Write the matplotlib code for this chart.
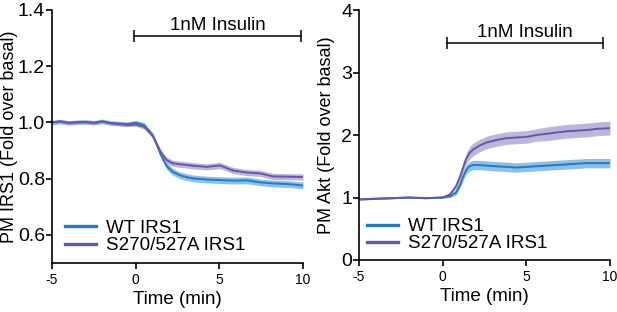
import matplotlib
matplotlib.use("Agg")
import matplotlib.pyplot as plt
import numpy as np

plt.rcParams['font.family'] = ['Liberation Sans', 'DejaVu Sans']
plt.rcParams['axes.unicode_minus'] = False

# --- data ---
# PM IRS1 panel
irs_t = [-5, -4.5, -4, -3.5, -3, -2.5, -2, -1.5, -1, -0.5, 0, 0.5, 1.0, 1.2, 1.5,
         1.85, 2.2, 2.65, 3.0, 3.43, 4.24, 5.04, 5.82, 6.63, 7.43, 8.2, 9.03, 10]
irs_wt = [1.0, 1.003, 0.998, 1.001, 1.002, 0.999, 1.004, 0.998, 0.996, 0.994, 0.999, 0.99,
          0.955, 0.93, 0.885, 0.845, 0.825, 0.812, 0.806, 0.801, 0.797, 0.795, 0.793,
          0.794, 0.787, 0.783, 0.781, 0.776]
irs_mut = [1.0, 1.004, 0.999, 1.0, 1.001, 0.998, 1.003, 0.997, 0.994, 0.991, 0.992, 0.985,
           0.955, 0.93, 0.895, 0.866, 0.855, 0.851, 0.849, 0.846, 0.842, 0.847, 0.829,
           0.822, 0.819, 0.808, 0.807, 0.806]
irs_wt_sem = [0.008] * 11 + [0.01] * 4 + [0.012] * 13
irs_mut_sem = [0.006] * 11 + [0.008] * 4 + [0.011] * 13

# PM Akt panel
akt_t = [-5, -4, -3, -2, -1, 0, 0.44, 0.8, 1.04, 1.25, 1.43, 1.6, 1.83, 2.2, 2.62,
         3.2, 3.82, 4.4, 5.02, 5.6, 6.22, 6.8, 7.42, 8.0, 8.61, 9.3, 10]
akt_wt = [0.97, 0.98, 0.99, 1.0, 0.99, 1.0, 1.02, 1.08, 1.2, 1.35, 1.45, 1.5, 1.52, 1.52,
          1.51, 1.5, 1.49, 1.48, 1.49, 1.5, 1.51, 1.52, 1.53, 1.54, 1.55, 1.55, 1.55]
akt_mut = [0.97, 0.98, 0.99, 1.0, 0.99, 1.0, 1.05, 1.18, 1.33, 1.5, 1.63, 1.71, 1.77,
           1.83, 1.88, 1.92, 1.95, 1.96, 1.97, 2.0, 2.02, 2.04, 2.06, 2.07, 2.08, 2.1, 2.11]
akt_wt_sem = [0.01] * 6 + [0.02, 0.04, 0.05, 0.06, 0.07] + [0.075] * 16
akt_mut_sem = [0.01] * 6 + [0.02, 0.04, 0.06, 0.08, 0.09] + [0.1] * 9 + [0.11] * 7

series_labels = ['WT IRS1', 'S270/527A IRS1']
wt_color, wt_fill = '#2a78bd', '#6fb2e2'
mut_color, mut_fill = '#6857a6', '#a99dd2'

fig = plt.figure(figsize=(6.17, 3.12), dpi=100)
ax1 = fig.add_axes([0.0843, 0.157, 0.4068, 0.811])
ax2 = fig.add_axes([0.5818, 0.1667, 0.4068, 0.801])


def draw_panel(ax, t, wt, wt_sem, mut, mut_sem):
    t = np.asarray(t)
    wt, mut = np.asarray(wt), np.asarray(mut)
    wt_sem, mut_sem = np.asarray(wt_sem), np.asarray(mut_sem)
    ax.fill_between(t, wt - wt_sem, wt + wt_sem, color=wt_fill, alpha=0.8, lw=0)
    ax.fill_between(t, mut - mut_sem, mut + mut_sem, color=mut_fill, alpha=0.75, lw=0)
    l1, = ax.plot(t, wt, color=wt_color, lw=1.4)
    l2, = ax.plot(t, mut, color=mut_color, lw=1.4)
    for s in ['top', 'right']:
        ax.spines[s].set_visible(False)
    for s in ['left', 'bottom']:
        ax.spines[s].set_linewidth(1.2)
    ax.tick_params(axis='both', direction='out', width=1.2, length=4)
    ax.tick_params(axis='x', labelsize=10, pad=3)
    ax.set_xlim(-5, 10)
    ax.set_xticks([-5, 0, 5, 10])
    ax.set_xlabel('Time (min)', fontsize=13.5, labelpad=3)
    return l1, l2


h = draw_panel(ax1, irs_t, irs_wt, irs_wt_sem, irs_mut, irs_mut_sem)
ax1.set_ylim(0.5, 1.4)
ax1.set_yticks([0.6, 0.8, 1.0, 1.2, 1.4])
ax1.set_yticklabels(['0.6', '0.8', '1.0', '1.2', '1.4'])
ax1.tick_params(axis='y', labelsize=14, pad=1)
ax1.set_ylabel('PM IRS1 (Fold over basal)', fontsize=13, labelpad=0)
ax1.plot([-0.1, 9.9], [1.3075, 1.3075], color='black', lw=1.1,
         marker='|', markersize=8, markeredgewidth=1.1)
ax1.text(4.9, 1.345, '1nM Insulin', ha='center', va='center', fontsize=13.5)
ax1.legend(h, series_labels, loc='lower left', bbox_to_anchor=(0.05, 0.035),
           frameon=False, fontsize=13.5, handlelength=1.7, handletextpad=0.5,
           labelspacing=0.0, borderpad=0, borderaxespad=0)
for ln in ax1.get_legend().get_lines():
    ln.set_linewidth(2.4)

h = draw_panel(ax2, akt_t, akt_wt, akt_wt_sem, akt_mut, akt_mut_sem)
ax2.set_ylim(0, 4)
ax2.set_yticks([0, 1, 2, 3, 4])
ax2.tick_params(axis='y', labelsize=14, pad=1)
ax2.set_ylabel('PM Akt (Fold over basal)', fontsize=13, labelpad=4)
ax2.plot([0.25, 9.6], [3.47, 3.47], color='black', lw=1.1,
         marker='|', markersize=8, markeredgewidth=1.1)
ax2.text(4.9, 3.64, '1nM Insulin', ha='center', va='center', fontsize=13.5)
ax2.legend(h, series_labels, loc='lower left', bbox_to_anchor=(0.03, 0.03),
           frameon=False, fontsize=13.5, handlelength=1.7, handletextpad=0.5,
           labelspacing=0.0, borderpad=0, borderaxespad=0)
for ln in ax2.get_legend().get_lines():
    ln.set_linewidth(2.4)

fig.savefig('out.png', dpi=100)
